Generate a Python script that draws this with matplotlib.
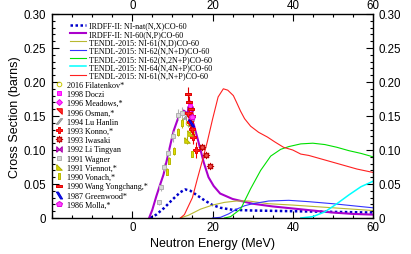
import matplotlib
matplotlib.use('Agg')
from matplotlib import pyplot as plt
from matplotlib.ticker import MultipleLocator, FixedLocator, FuncFormatter

# evaluated curves (MeV, barns)
irdff_nat_e = [4.5, 6, 8, 10, 12, 13.2, 14.5, 16, 18, 20, 22, 25, 30, 40, 50, 60]
irdff_nat_y = [0, 0.005, 0.015, 0.027, 0.038, 0.042, 0.040, 0.034, 0.026, 0.019, 0.015, 0.012, 0.011, 0.010, 0.009, 0.008]

irdff_np_e = [4.2, 5, 6, 7, 7.8, 9, 10.3, 11.5, 12.8, 14, 15.3, 16.5, 17.8, 19, 20.3, 21.9, 25, 30, 35, 40, 45, 50, 55, 60]
irdff_np_y = [0, 0.012, 0.032, 0.05, 0.064, 0.095, 0.128, 0.148, 0.158, 0.153, 0.138, 0.112, 0.082, 0.060, 0.047, 0.036,
              0.028, 0.021, 0.017, 0.014, 0.011, 0.008, 0.006, 0.005]

tendl_nd_e = [12, 14, 17, 20, 23, 26, 29, 34, 40, 50, 60]
tendl_nd_y = [0, 0.004, 0.013, 0.019, 0.023, 0.025, 0.025, 0.021, 0.019, 0.015, 0.011]

tendl_nnd_e = [20, 22, 24, 26, 28, 30, 34, 39, 44, 50, 55, 60]
tendl_nnd_y = [0, 0.001, 0.006, 0.013, 0.018, 0.021, 0.025, 0.026, 0.024, 0.021, 0.018, 0.015]

tendl_2np_e = [23, 24.5, 27, 29.5, 32, 34.5, 37, 39, 42, 45, 48, 51, 54, 57, 60]
tendl_2np_y = [0, 0.002, 0.013, 0.043, 0.070, 0.091, 0.101, 0.105, 0.109, 0.110, 0.108, 0.104, 0.099, 0.095, 0.090]

tendl_4np_e = [42, 45, 48, 51, 54, 57, 60]
tendl_4np_y = [0, 0.002, 0.009, 0.021, 0.034, 0.046, 0.054]

tendl_nnp_e = [12, 13, 15, 16.2, 17.5, 18.7, 20, 21.4, 22.7, 23.8, 25.2, 26, 27, 28, 29.5, 31.5, 33.7, 35.5, 37.7,
               40, 42, 44, 47, 50, 53, 56, 60]
tendl_nnp_y = [0, 0.005, 0.03, 0.057, 0.085, 0.112, 0.145, 0.178, 0.190, 0.188, 0.180, 0.170, 0.157, 0.146, 0.135,
               0.126, 0.119, 0.112, 0.104, 0.100, 0.094, 0.092, 0.087, 0.082, 0.077, 0.072, 0.067]

# experimental points: energy, cross section, error
filatenkov_e = [14.0, 14.9]
filatenkov_y = [0.140, 0.125]
filatenkov_err = [0.006, 0.006]

doczi_e = [14.1, 14.5]
doczi_y = [0.158, 0.165]
doczi_err = [0.008, 0.008]

meadows_e = [14.7]
meadows_y = [0.146]
meadows_err = [0.007]

osman_e = [14.4]
osman_y = [0.150]
osman_err = [0.010]

lu_e = [13.5, 14.6]
lu_y = [0.150, 0.140]
lu_err = [0.008, 0.008]

konno_e = [14.0, 14.5, 14.9, 15.1, 16.0]
konno_y = [0.155, 0.141, 0.131, 0.119, 0.100]
konno_err = [0.008, 0.008, 0.007, 0.010, 0.012]

iwasaki_e = [17.4, 18.5, 19.5]
iwasaki_y = [0.104, 0.093, 0.076]
iwasaki_err = [0.003, 0.003, 0.003]

li_e = [14.5]
li_y = [0.160]
li_err = [0.007]

wagner_e = [6.6, 7.1, 7.8, 8.8, 10.1, 11.5, 12.3]
wagner_y = [0.023, 0.045, 0.075, 0.095, 0.120, 0.152, 0.155]
wagner_err = [0.004, 0.005, 0.006, 0.007, 0.008, 0.008, 0.008]

viennot_e = [13.6, 14.5]
viennot_y = [0.115, 0.125]
viennot_err = [0.006, 0.006]

vonach_e = [8.6, 9.2, 10.3, 11.5, 12.5, 14.9]
vonach_y = [0.068, 0.084, 0.099, 0.126, 0.140, 0.094]
vonach_err = [0.005, 0.005, 0.006, 0.006, 0.007, 0.005]

wang_e = [13.9, 14.2, 14.6, 14.9]
wang_y = [0.182, 0.170, 0.160, 0.150]
wang_err = [0.010, 0.009, 0.008, 0.008]

greenwood_e = [14.7]
greenwood_y = [0.140]
greenwood_err = [0.006]

molla_e = [14.8]
molla_y = [0.148]
molla_err = [0.007]

plt.rcParams['font.family'] = ['Liberation Sans', 'DejaVu Sans']
fig = plt.figure(figsize=(4.11, 2.55), dpi=100)
ax = fig.add_axes([52 / 411, 1 - 219 / 255, 321 / 411, 204 / 255])

lines = []
lines += ax.plot(irdff_nat_e, irdff_nat_y, color='#0000cc', lw=1.8, ls=(0, (1, 1)), label='IRDFF-II: NI-nat(N,X)CO-60')
lines += ax.plot(irdff_np_e, irdff_np_y, color='#aa00cc', lw=1.5, label='IRDFF-II: NI-60(N,P)CO-60')
lines += ax.plot(tendl_nd_e, tendl_nd_y, color='#b8b830', lw=0.8, label='TENDL-2015: NI-61(N,D)CO-60')
lines += ax.plot(tendl_nnd_e, tendl_nnd_y, color='#3333ff', lw=0.8, label='TENDL-2015: NI-62(N,N+D)CO-60')
lines += ax.plot(tendl_2np_e, tendl_2np_y, color='#00e000', lw=0.8, label='TENDL-2015: NI-62(N,2N+P)CO-60')
lines += ax.plot(tendl_4np_e, tendl_4np_y, color='#00ffff', lw=1.1, label='TENDL-2015: NI-64(N,4N+P)CO-60')
lines += ax.plot(tendl_nnp_e, tendl_nnp_y, color='#ff2020', lw=0.8, label='TENDL-2015: NI-61(N,N+P)CO-60')

osman_m = [(-1, 1), (1, 1), (1, -1), (-1, 1)]
lu_m = [(-1, -0.9), (-0.4, -0.9), (1, 0.9), (0.4, 0.9), (-1, -0.9)]
li_m = [(-1, -1), (-1, 1), (0, 0), (1, 1), (1, -1), (0, 0), (-1, -1)]
viennot_m = [(-1, 1), (-1, -1), (1, -1), (-1, 1)]
vonach_m = [(-0.45, -1), (0.45, -1), (0.45, 1), (-0.45, 1), (-0.45, -1)]
wang_m = [(-1, -0.35), (1, -0.35), (1, 0.35), (-1, 0.35), (-1, -0.35)]
green_m = [(-0.9, 1), (-0.3, 1), (0.9, -1), (0.3, -1), (-0.9, 1)]

exp = [
    (filatenkov_e, filatenkov_y, filatenkov_err, 'o', 'none', '#c8c800', 3.3, '2016 Filatenkov*'),
    (doczi_e, doczi_y, doczi_err, 's', '#ff40ff', '#ff00ff', 3.0, '1998 Doczi'),
    (meadows_e, meadows_y, meadows_err, 'D', '#ff40ff', '#ee00ee', 3.0, '1996 Meadows,*'),
    (osman_e, osman_y, osman_err, osman_m, '#ff3030', '#ee0000', 4, '1996 Osman,*'),
    (lu_e, lu_y, lu_err, lu_m, '#c0c0c0', '#909090', 4.5, '1994 Lu Hanlin'),
    (konno_e, konno_y, konno_err, 'P', '#ff2020', '#ee0000', 4, '1993 Konno,*'),
    (iwasaki_e, iwasaki_y, iwasaki_err, (8, 1, 0), '#ee5050', '#bb0000', 5, '1993 Iwasaki'),
    (li_e, li_y, li_err, li_m, '#cc30cc', '#aa00aa', 4, '1992 Li Tingyan'),
    (wagner_e, wagner_y, wagner_err, 's', '#d8d8d8', '#b0b0b0', 3.3, '1991 Wagner'),
    (viennot_e, viennot_y, viennot_err, viennot_m, '#d8d800', '#b0b000', 4, '1991 Viennot,*'),
    (vonach_e, vonach_y, vonach_err, vonach_m, '#e0e000', '#b8b800', 4.5, '1990 Vonach,*'),
    (wang_e, wang_y, wang_err, wang_m, '#ff2020', '#dd0000', 5, '1990 Wang Yongchang,*'),
    (greenwood_e, greenwood_y, greenwood_err, green_m, '#1010ff', '#0000cc', 5, '1987 Greenwood*'),
    (molla_e, molla_y, molla_err, 'p', '#ff40ff', '#dd00dd', 4, '1986 Molla,*'),
]

markers = []
for e, y, err, m, fc, ec, ms, lab in exp:
    ax.errorbar(e, y, yerr=err, fmt='none', ecolor=ec, elinewidth=0.8, capsize=0, zorder=3)
    mk, = ax.plot(e, y, ls='none', marker=m, mfc=fc, mec=ec, ms=ms, mew=0.7, label=lab, zorder=4)
    markers.append(mk)

ax.set_xlim(-20, 60)
ax.set_ylim(0, 0.30)
ax.xaxis.set_major_locator(FixedLocator([0, 20, 40, 60]))
ax.xaxis.set_minor_locator(MultipleLocator(5))
ax.yaxis.set_major_locator(MultipleLocator(0.05))
ax.yaxis.set_minor_locator(MultipleLocator(0.01))
ax.yaxis.set_major_formatter(FuncFormatter(lambda v, p: '0' if abs(v) < 1e-9 else f'{v:.2f}'))
ax.tick_params(which='both', direction='in', top=True, right=True, labeltop=True, labelright=True,
               labelsize=8.3, width=0.8, pad=2)
ax.tick_params(axis='y', which='major', pad=4)
ax.tick_params(which='major', length=5)
ax.tick_params(which='minor', length=2.5)
for s in ax.spines.values():
    s.set_linewidth(1.0)
ax.set_xlabel('Neutron Energy (MeV)', fontsize=9, labelpad=3)
ax.set_ylabel('Cross Section (barns)', fontsize=9, labelpad=2)

leg_font = {'family': ['Liberation Serif', 'DejaVu Serif'], 'size': 5.9}
leg1 = ax.legend(handles=lines, loc='upper left', bbox_to_anchor=(0.056, 0.963), frameon=False, prop=leg_font,
                 borderpad=0, borderaxespad=0, handlelength=1.9, handletextpad=0.4, labelspacing=0.04)
ax.add_artist(leg1)
ax.legend(handles=markers, loc='upper left', bbox_to_anchor=(0.008, 0.674), frameon=False, prop=leg_font,
          borderpad=0, borderaxespad=0, handlelength=1.1, handletextpad=0.45, labelspacing=0.155, numpoints=1)

fig.savefig('out.png', dpi=100)
